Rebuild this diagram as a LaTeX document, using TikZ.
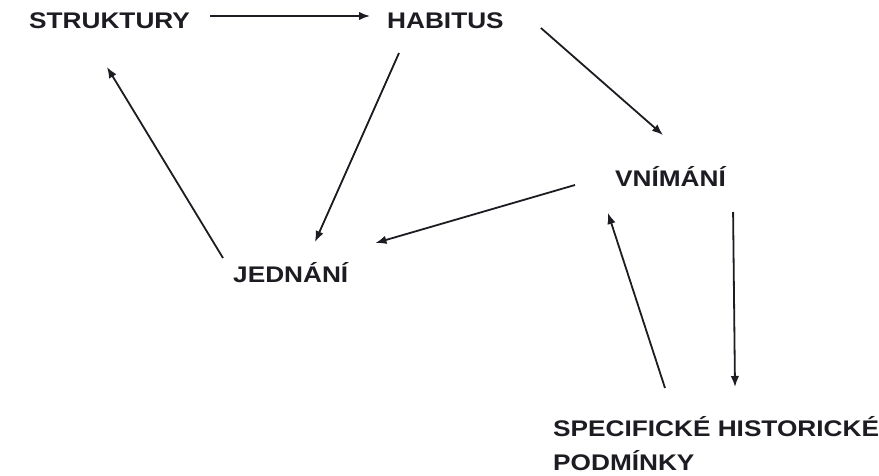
\documentclass[tikz,border=0pt]{standalone}
\usepackage{fontspec}
\newfontfamily\lblfont{Liberation Sans}[FakeStretch=1.16]
\usetikzlibrary{arrows.meta}
\definecolor{inkdark}{RGB}{28,28,34}

\begin{document}
\begin{tikzpicture}[x=1pt, y=-1pt, line join=round,
    lbl/.style={inner sep=0pt, anchor=base west, text=inkdark, align=left,
      font=\lblfont\bfseries\fontsize{22.6}{34}\selectfont},
    arr/.style={draw=inkdark, line width=1.8pt, -{Latex[length=11pt,width=8.5pt]}}]
    \useasboundingbox[fill=white] (0,0) rectangle (879,476);
    % labels
    \node[lbl] (struktury) at (29,29) {STRUKTURY};
    \node[lbl] (habitus) at (387,29) {HABITUS};
    \node[lbl] (jednani) at (233,282) {JEDNÁNÍ};
    \node[lbl] (vnimani) at (615,187) {VNÍMÁNÍ};
    \node[lbl] (podminky) at (553,470) {SPECIFICKÉ HISTORICKÉ\\PODMÍNKY};
    % arrows
    \draw[arr] ([xshift=20pt,yshift=13pt]struktury.base east) -- ([xshift=-17pt,yshift=13pt]habitus.base west);
    \draw[arr] ([xshift=12pt,yshift=-24pt]habitus.base west) -- ([xshift=82pt,yshift=40pt]jednani.base west);
    \draw[arr] ([xshift=37pt,yshift=1pt]habitus.base east) -- ([xshift=48pt,yshift=52pt]vnimani.base west);
    \draw[arr] ([xshift=-40pt,yshift=2pt]vnimani.base west) -- ([xshift=27pt,yshift=39pt]jednani.base east);
    \draw[arr] ([xshift=-10pt,yshift=24pt]jednani.base west) -- ([xshift=78pt,yshift=-38pt]struktury.base west);
    \draw[arr] ([xshift=7pt,yshift=-25pt]vnimani.base east) -- ([xshift=182pt,yshift=83pt]podminky.base west);
    \draw[arr] ([xshift=112pt,yshift=82pt]podminky.base west) -- ([xshift=-7pt,yshift=-26pt]vnimani.base west);
\end{tikzpicture}
\end{document}
